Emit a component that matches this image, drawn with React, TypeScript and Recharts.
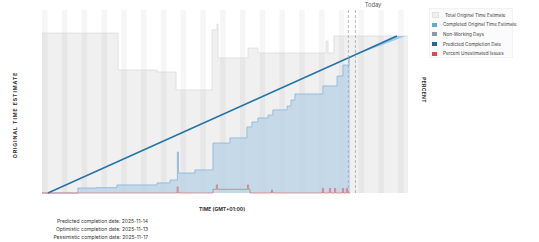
import { ComposedChart, Area, Line, XAxis, YAxis, ReferenceArea, ReferenceLine } from 'recharts';

// x axis is measured in days since the start of the range
const RANGE_END = 129.5;
const NON_WORKING_STARTS = [0, 7, 14, 21, 28, 35, 42, 49, 56, 63, 70, 77, 84, 91, 98, 105, 112, 119, 126];

const totalDays = [0, 26.9, 40.7, 47.4, 60.2, 61.9, 62.3, 72.9, 76.4, 100.5, 101.2, 103.3, 129.5];
const totalEstimate = [87.4, 67.2, 66.1, 56.3, 89.1, 92.3, 73.8, 79.2, 76.5, 83.1, 76.5, 85.8, 85.8];

const completedDays = [0, 12.7, 19.1, 26.5, 40.7, 45.3, 47.9, 48.3, 54.1, 60.5, 66.5, 72.5, 74.3, 76.4, 80.0, 81.7, 86.7, 88.1, 89.5, 99.4, 104.4, 106.5, 108.6, 109.0];
const completedEstimate = [0, 2.7, 2.9, 4.4, 5.5, 7.1, 22.4, 10.9, 12.6, 27.3, 30.1, 36.1, 38.8, 41.0, 42.6, 45.4, 47.5, 50.8, 54.1, 58.5, 63.9, 69.9, 74.3, 74.3];

const predictedDays = [2.1, 125.6];
const predictedEstimate = [0, 85.8];

const bandDays = [108.6, 124.6, 128.6];
const bandLow = [74.0, 83.4, 85.8];
const bandHigh = [74.0, 85.8, 85.8];

const unestDays = [0, 47.8, 48.2, 60.5, 61.7, 62.1, 72.7, 73.1, 73.6, 81.2, 81.6, 99.2, 99.6, 101.7, 102.1, 103.5, 103.9, 106.3, 106.7, 107.7, 108.1, 109.0];
const unestPct = [0, 3.3, 0, 2.0, 4.4, 2.0, 4.4, 2.0, 0, 1.6, 0, 2.5, 0, 2.5, 0, 2.5, 0, 2.5, 0, 2.5, 0, 0];

const TODAY_MARKS = [108.4, 110.9];

const LEGEND = [
  { label: 'Total Original Time Estimate', color: '#f0f0f0' },
  { label: 'Completed Original Time Estimate', color: '#62aadd' },
  { label: 'Non-Working Days', color: '#8d9aa5' },
  { label: 'Predicted Completion Date', color: '#1f6a99' },
  { label: 'Percent Unestimated Issues', color: '#e0474a' },
];

const FOOTNOTES = [
  'Predicted completion date: 2025-11-14',
  'Optimistic completion date: 2025-11-13',
  'Pessimistic completion date: 2025-11-17',
];

const totalData = totalDays.map((d, i) => ({ d, v: totalEstimate[i] }));
const completedData = completedDays.map((d, i) => ({ d, v: completedEstimate[i] }));
const predictedData = predictedDays.map((d, i) => ({ d, v: predictedEstimate[i] }));
const bandData = bandDays.map((d, i) => ({ d, r: [bandLow[i], bandHigh[i]] }));
const unestData = unestDays.map((d, i) => ({ d, p: unestPct[i] }));

const FONT = 'Inter, "Open Sans", sans-serif';

export default function App() {
  return (
    <div style={{ position: 'absolute', left: 0, top: 0, width: 539, height: 242, background: '#fff', fontFamily: FONT }}>
      <ComposedChart width={539} height={242} margin={{ top: 10, right: 131, bottom: 49, left: 42 }}>
        <XAxis dataKey="d" type="number" domain={[0, RANGE_END]} allowDataOverflow hide />
        <YAxis yAxisId="est" domain={[0, 100]} hide />
        <YAxis yAxisId="pct" orientation="right" domain={[0, 100]} hide />
        {NON_WORKING_STARTS.map((s) => (
          <ReferenceArea key={s} yAxisId="est" x1={s} x2={Math.min(s + 2, RANGE_END)} fill="#000" fillOpacity={0.035} stroke="none" ifOverflow="hidden" />
        ))}
        <Area
          yAxisId="est"
          data={totalData}
          dataKey="v"
          type="stepAfter"
          fill="#000"
          fillOpacity={0.06}
          stroke="#dcdcdc"
          strokeWidth={0.8}
          isAnimationActive={false}
        />
        <Area
          yAxisId="est"
          data={completedData}
          dataKey="v"
          type="stepAfter"
          fill="#b9d2e7"
          fillOpacity={0.78}
          stroke="#8dbadd"
          strokeWidth={0.9}
          isAnimationActive={false}
        />
        <Area
          yAxisId="est"
          data={bandData}
          dataKey="r"
          type="linear"
          fill="#8cc1e8"
          fillOpacity={0.8}
          stroke="none"
          isAnimationActive={false}
        />
        <Line
          yAxisId="est"
          data={predictedData}
          dataKey="v"
          type="linear"
          stroke="#2474a6"
          strokeWidth={1.5}
          dot={false}
          isAnimationActive={false}
        />
        <Line
          yAxisId="pct"
          data={unestData}
          dataKey="p"
          type="stepAfter"
          stroke="#e0474a"
          strokeOpacity={0.6}
          strokeWidth={0.9}
          dot={false}
          isAnimationActive={false}
        />
        {TODAY_MARKS.map((t) => (
          <ReferenceLine key={t} yAxisId="est" x={t} stroke="#a8a8a8" strokeDasharray="3 2" strokeWidth={0.8} />
        ))}
      </ComposedChart>

      <div style={{ position: 'absolute', left: 360, top: 1, width: 26, textAlign: 'center', fontSize: 5.8, color: '#555' }}>Today</div>

      <div
        style={{
          position: 'absolute', left: 15, top: 115, transform: 'translate(-50%, -50%) rotate(-90deg)',
          whiteSpace: 'nowrap', fontSize: 5.2, fontWeight: 700, color: '#333', letterSpacing: 0.9,
        }}
      >
        ORIGINAL TIME ESTIMATE
      </div>
      <div
        style={{
          position: 'absolute', left: 424, top: 90, transform: 'translate(-50%, -50%) rotate(90deg)',
          whiteSpace: 'nowrap', fontSize: 5, fontWeight: 700, color: '#333', letterSpacing: 0.3,
        }}
      >
        PERCENT
      </div>
      <div
        style={{
          position: 'absolute', left: 222, top: 209, transform: 'translate(-50%, -50%)',
          whiteSpace: 'nowrap', fontSize: 5, fontWeight: 700, color: '#333',
        }}
      >
        TIME (GMT+01:00)
      </div>

      <div
        style={{
          position: 'absolute', left: 429, top: 8, width: 84, height: 50, boxSizing: 'border-box',
          background: '#fbfbfb', border: '1px solid #f2f2f2', padding: '1.5px 0 0 2px',
        }}
      >
        {LEGEND.map((item) => (
          <div key={item.label} style={{ display: 'flex', alignItems: 'center', height: 9.6, fontSize: 4.6, color: '#444', whiteSpace: 'nowrap' }}>
            <span
              style={{
                flex: 'none', display: 'inline-block', width: 5, height: 4, background: item.color, marginRight: 6,
                border: item.color === '#f0f0f0' ? '0.5px solid #e2e2e2' : 'none',
              }}
            />
            <span style={{ flex: 'none' }}>{item.label}</span>
          </div>
        ))}
      </div>

      <div style={{ position: 'absolute', left: 20, top: 217, width: 128, textAlign: 'right', fontSize: 5, color: '#333', lineHeight: '8px' }}>
        {FOOTNOTES.map((t) => (
          <div key={t}>{t}</div>
        ))}
      </div>
    </div>
  );
}
